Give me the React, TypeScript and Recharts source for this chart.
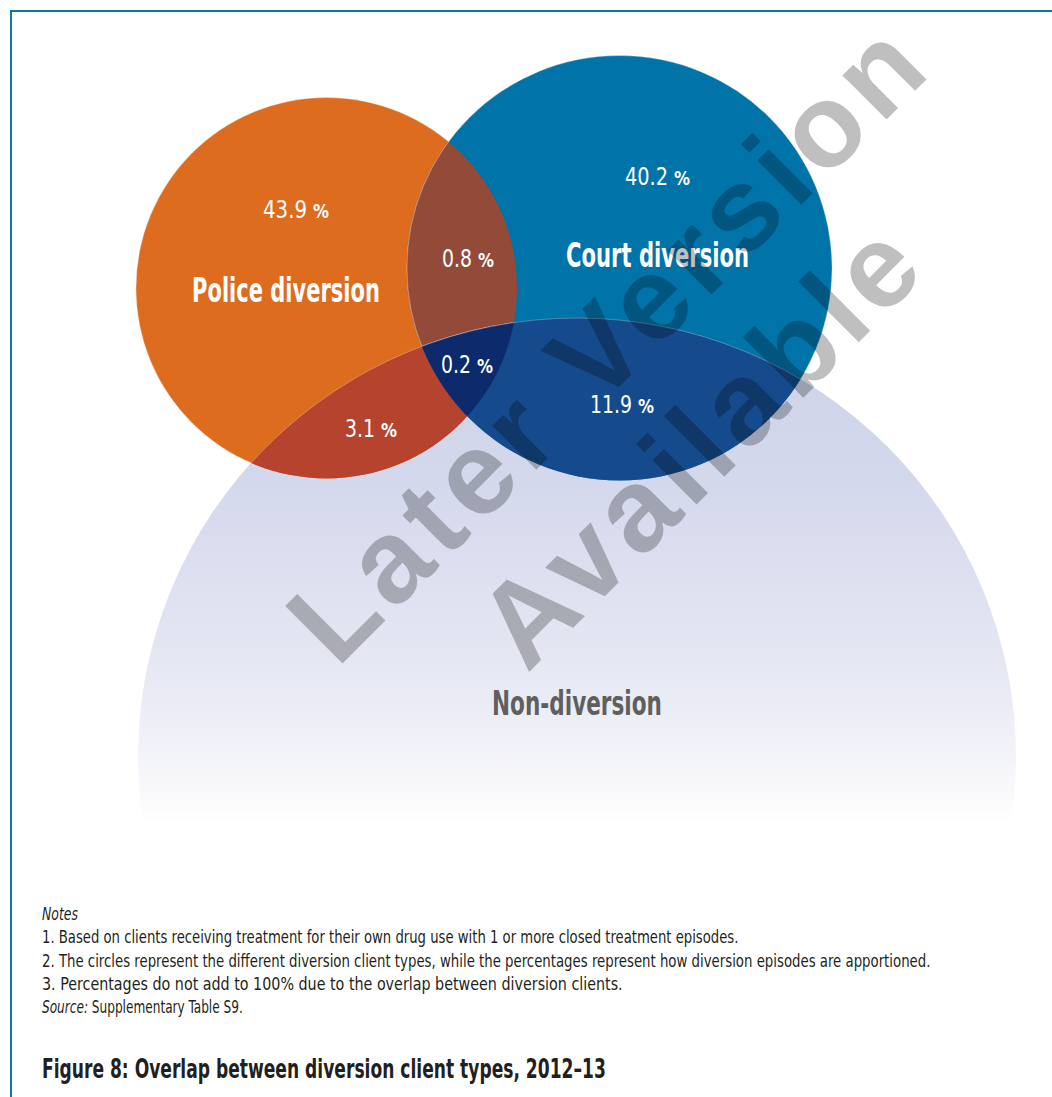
import React from 'react';
import { ScatterChart, Scatter, XAxis, YAxis } from 'recharts';

// ---------- data ----------
const SET_NAMES = ['Police diversion', 'Court diversion', 'Non-diversion'];
const REGION_NAMES = [
  'Police only',
  'Court only',
  'Police and court',
  'Police and non-diversion',
  'Court and non-diversion',
  'Police, court and non-diversion',
];
const REGION_SHARES = [43.9, 40.2, 0.8, 3.1, 11.9, 0.2];
const REGION_MEMBERS = [[0], [1], [0, 1], [0, 2], [1, 2], [0, 1, 2]];

const NOTES_HEAD = 'Notes';
const NOTES = [
  '1. Based on clients receiving treatment for their own drug use with 1 or more closed treatment episodes.',
  '2. The circles represent the different diversion client types, while the percentages represent how diversion episodes are apportioned.',
  '3. Percentages do not add to 100% due to the overlap between diversion clients.',
];
const SOURCE_HEAD = 'Source:';
const SOURCE = ' Supplementary Table S9.';
const TITLE = 'Figure 8: Overlap between diversion client types, 2012–13';
const WATERMARK = ['Later Version', 'Available'];

// ---------- layout (chart units) ----------
const W = 1052;
const H = 1097;
const X_MIN = 0;
const X_MAX = 1052;
const Y_MIN = 0;
const Y_MAX = 1097;
const K = W / (X_MAX - X_MIN);

const CIRCLE_CX = [326.5, 619.5, 577];
const CIRCLE_CY = [288, 268, 757];
const CIRCLE_R = [190.5, 212.5, 439];
const FADE_Y = 823;

const SET_FILL = ['#dd6c1f', '#0073a9', 'url(#nonFade)'];
const REGION_FILL = ['#dd6c1f', '#0073a9', '#934a39', '#b5432d', '#154b8c', '#0c2a6c'];

const REGION_LABEL_X = [296, 657.5, 468, 371, 622, 467];
const REGION_LABEL_Y = [218, 185, 267, 437, 413, 373];
const REGION_LABEL_W = [66, 65, 52, 52, 64, 52];
const PCT_W = 16;
const PCT_GAP = 6;
const SET_LABEL_X = [286, 657.5, 577];
const SET_LABEL_Y = [302, 267, 715];
const SET_LABEL_W = [188, 183, 170];
const SET_LABEL_COLOR = ['#ffffff', '#ffffff', '#5f5f5f'];

const NARROW = "'Liberation Sans Narrow', 'DejaVu Sans Condensed', 'Roboto', sans-serif";
const BOLD_SANS = "'Liberation Sans', Arial, sans-serif";
const FRAME = '#0a78ab';
const TEXT = '#231f20';

// ---------- derived tables ----------
const circleData = [2, 0, 1].map((i) => ({
  idx: i,
  name: SET_NAMES[i],
  x: CIRCLE_CX[i],
  y: CIRCLE_CY[i],
  r: CIRCLE_R[i],
  fill: SET_FILL[i],
}));

const regionData = REGION_MEMBERS.map((m, i) => {
  const base = m[m.length - 1];
  return {
    name: REGION_NAMES[i],
    share: REGION_SHARES[i],
    base,
    clips: m.slice(0, -1),
    x: CIRCLE_CX[base],
    y: CIRCLE_CY[base],
    r: CIRCLE_R[base],
    fill: REGION_FILL[i],
  };
}).filter((d) => d.clips.length > 0);

const labelData = [
  ...REGION_SHARES.map((v, i) => ({
    kind: 'share',
    text: v.toFixed(1),
    x: REGION_LABEL_X[i],
    y: REGION_LABEL_Y[i],
    w: REGION_LABEL_W[i],
    color: '#ffffff',
  })),
  ...SET_NAMES.map((n, i) => ({
    kind: 'set',
    text: n,
    x: SET_LABEL_X[i],
    y: SET_LABEL_Y[i],
    w: SET_LABEL_W[i],
    color: SET_LABEL_COLOR[i],
  })),
];

// ---------- text that is fitted to a measured width ----------
function FitText(props: any) {
  const { x, y, width, anchor = 'start', children, ...rest } = props;
  const ref = React.useRef<any>(null);
  const [s, setS] = React.useState(1);
  React.useLayoutEffect(() => {
    const el = ref.current;
    if (!el || !el.getComputedTextLength) return;
    const len = el.getComputedTextLength();
    if (len > 0) {
      const ns = width / len;
      if (Math.abs(ns - s) > 0.001) setS(ns);
    }
  });
  return (
    <text
      ref={ref}
      x={0}
      y={0}
      transform={`translate(${x} ${y}) scale(${s} 1)`}
      textAnchor={anchor}
      {...rest}
    >
      {children}
    </text>
  );
}

// ---------- shapes ----------
const CircleShape = (props: any) => {
  const { cx, cy, payload } = props;
  const r = payload.r * K;
  const isNon = payload.idx === 2;
  const fadeY = cy + (FADE_Y - payload.y) * K;
  return (
    <g>
      <defs>
        <clipPath id={`venn-clip-${payload.idx}`}>
          <circle cx={cx} cy={cy} r={r} />
        </clipPath>
        {isNon && (
          <linearGradient id="nonFade" gradientUnits="userSpaceOnUse" x1={0} x2={0} y1={cy - r} y2={fadeY}>
            <stop offset="0" stopColor="#cdd2e9" />
            <stop offset="0.32" stopColor="#d4d8ec" />
            <stop offset="0.56" stopColor="#dfe2f0" />
            <stop offset="0.72" stopColor="#e7e9f4" />
            <stop offset="0.95" stopColor="#fafafc" />
            <stop offset="1" stopColor="#ffffff" />
          </linearGradient>
        )}
        {isNon && (
          <clipPath id="venn-fade">
            <rect x={cx - r - 2} y={cy - r - 2} width={2 * r + 4} height={fadeY - (cy - r - 2)} />
          </clipPath>
        )}
      </defs>
      <circle
        cx={cx}
        cy={cy}
        r={r}
        fill={payload.fill}
        clipPath={isNon ? 'url(#venn-fade)' : undefined}
        stroke={isNon ? 'none' : '#ffffff'}
        strokeOpacity={0.35}
        strokeWidth={0.8}
      />
    </g>
  );
};

const RegionShape = (props: any) => {
  const { cx, cy, payload } = props;
  const r = payload.r * K;
  let node: any = (
    <circle cx={cx} cy={cy} r={r} fill={payload.fill} stroke="#ffffff" strokeOpacity={0.35} strokeWidth={0.8} />
  );
  payload.clips.forEach((c: number) => {
    node = <g clipPath={`url(#venn-clip-${c})`}>{node}</g>;
  });
  return node;
};

const LabelShape = (props: any) => {
  const { cx, cy, payload } = props;
  if (payload.kind === 'share') {
    const right = cx + (payload.w / 2) * K;
    return (
      <g>
        <FitText
          x={right - PCT_W - PCT_GAP}
          y={cy}
          width={payload.w - PCT_W - PCT_GAP}
          anchor="end"
          fill={payload.color}
          fontFamily={NARROW}
          fontSize={25}
        >
          {payload.text}
        </FitText>
        <FitText x={right} y={cy} width={PCT_W} anchor="end" fill={payload.color} fontFamily={NARROW} fontSize={19} fontWeight={700}>
          %
        </FitText>
      </g>
    );
  }
  return (
    <FitText
      x={cx}
      y={cy}
      width={payload.w}
      anchor="middle"
      fill={payload.color}
      fontFamily={NARROW}
      fontWeight={700}
      fontSize={34}
    >
      {payload.text}
    </FitText>
  );
};

export default function App() {
  return (
    <div style={{ position: 'absolute', left: 0, top: 0, width: W, height: H, background: '#ffffff', overflow: 'hidden' }}>
      <div style={{ position: 'absolute', left: 0, top: 0 }}>
        <ScatterChart width={W} height={H} margin={{ top: 0, right: 0, bottom: 0, left: 0 }}>
          <XAxis type="number" dataKey="x" domain={[X_MIN, X_MAX]} allowDataOverflow hide />
          <YAxis type="number" dataKey="y" domain={[Y_MIN, Y_MAX]} allowDataOverflow reversed hide />
          <Scatter data={circleData} shape={CircleShape} isAnimationActive={false} />
          <Scatter data={regionData} shape={RegionShape} isAnimationActive={false} />
          <Scatter data={labelData} shape={LabelShape} isAnimationActive={false} />
        </ScatterChart>
      </div>
      <svg width={W} height={H} style={{ position: 'absolute', left: 0, top: 0, pointerEvents: 'none' }}>
        <line x1={10} y1={11} x2={W} y2={11} stroke={FRAME} strokeWidth={2} />
        <line x1={11} y1={10} x2={11} y2={H} stroke={FRAME} strokeWidth={2} />
        <g fontFamily={BOLD_SANS} fontWeight={700} fontSize={118} fill="#000000" fillOpacity={0.25}>
          <text x={337} y={669} transform="rotate(-45 337 669)" textLength={841} lengthAdjust="spacing">
            {WATERMARK[0]}
          </text>
          <text x={527} y={674} transform="rotate(-45 527 674)" textLength={566} lengthAdjust="spacing">
            {WATERMARK[1]}
          </text>
        </g>
        <g fontFamily={NARROW} fill={TEXT} fontSize={17}>
          <FitText x={42} y={920} width={36} fontStyle="italic">
            {NOTES_HEAD}
          </FitText>
          <FitText x={42} y={943} width={697}>{NOTES[0]}</FitText>
          <FitText x={42} y={966.5} width={889}>{NOTES[1]}</FitText>
          <FitText x={42} y={990} width={581}>{NOTES[2]}</FitText>
          <FitText x={42} y={1013} width={201}>
            <tspan fontStyle="italic">{SOURCE_HEAD}</tspan>
            {SOURCE}
          </FitText>
          <FitText x={42} y={1078} width={564} fontWeight={700} fontSize={27}>
            {TITLE}
          </FitText>
        </g>
      </svg>
    </div>
  );
}
